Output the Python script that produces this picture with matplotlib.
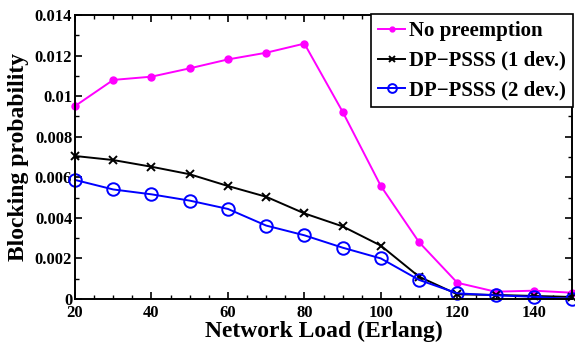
import numpy as np
import matplotlib.pyplot as plt
from matplotlib.ticker import MultipleLocator

load = [20, 30, 40, 50, 60, 70, 80, 90, 100, 110, 120, 130, 140, 150]
no_preemption = [0.00951, 0.0108, 0.01096, 0.01137, 0.01181, 0.01214, 0.01259,
                 0.00923, 0.00557, 0.0028, 0.0008, 0.00036, 0.00041, 0.00031]
dp_1dev = [0.00705, 0.00685, 0.00652, 0.00615, 0.00557, 0.00504, 0.00422,
           0.00358, 0.00263, 0.0011, 0.00023, 0.0002, 0.00015, 0.0001]
dp_2dev = [0.00587, 0.0054, 0.00516, 0.00485, 0.00444, 0.00362, 0.00314,
           0.00253, 0.002, 0.00094, 0.00028, 0.00018, 0.00011, 0.0]

plt.rcParams['font.family'] = 'Liberation Serif'
plt.rcParams['font.weight'] = 'bold'

fig = plt.figure(figsize=(5.75, 3.45), dpi=100)
ax = fig.add_axes([75 / 575, 46 / 345, 497 / 575, 284 / 345])

ax.plot(load, no_preemption, color='#ff00ff', marker='o', markersize=5,
        linewidth=1.4, label='No preemption', clip_on=False)
ax.plot(load, dp_1dev, color='black', marker='x', markersize=6,
        markeredgewidth=1.4, linewidth=1.4, label='DP\u2212PSSS (1 dev.)', clip_on=False)
ax.plot(load, dp_2dev, color='#0000ff', marker='o', markersize=9, markerfacecolor='none',
        markeredgewidth=1.4, linewidth=1.4, label='DP\u2212PSSS (2 dev.)', clip_on=False)

ax.set_xlim(20, 150)
ax.set_ylim(0, 0.014)
ax.xaxis.set_major_locator(MultipleLocator(20))
ax.xaxis.set_minor_locator(MultipleLocator(5))
ax.yaxis.set_minor_locator(MultipleLocator(0.001))
ax.set_yticks([0, 0.002, 0.004, 0.006, 0.008, 0.01, 0.012, 0.014])
ax.set_yticklabels(['0', '0.002', '0.004', '0.006', '0.008', '0.01', '0.012', '0.014'])
ax.tick_params(which='both', direction='in', top=True, right=True, labelsize=12)
ax.tick_params(axis='y', pad=2)
ax.tick_params(axis='x', pad=4)
ax.tick_params(which='major', length=5, width=1.2)
ax.tick_params(which='minor', length=3, width=1)
for s in ax.spines.values():
    s.set_linewidth(1.4)

ax.set_xlabel('Network Load (Erlang)', fontsize=17, fontweight='bold', labelpad=0)
ax.set_ylabel('Blocking probability', fontsize=17, fontweight='bold', labelpad=4)

leg = ax.legend(loc='upper right', bbox_to_anchor=(1.003, 1.003), fontsize=15,
                handlelength=1.3, handletextpad=0.2, borderpad=0.35, labelspacing=0.45,
                markerscale=0.7, fancybox=False, framealpha=1, borderaxespad=0)
leg.get_frame().set_edgecolor('black')
leg.get_frame().set_linewidth(1.2)
for t in leg.get_texts():
    t.set_fontweight('bold')

fig.savefig('out.png', dpi=100)
